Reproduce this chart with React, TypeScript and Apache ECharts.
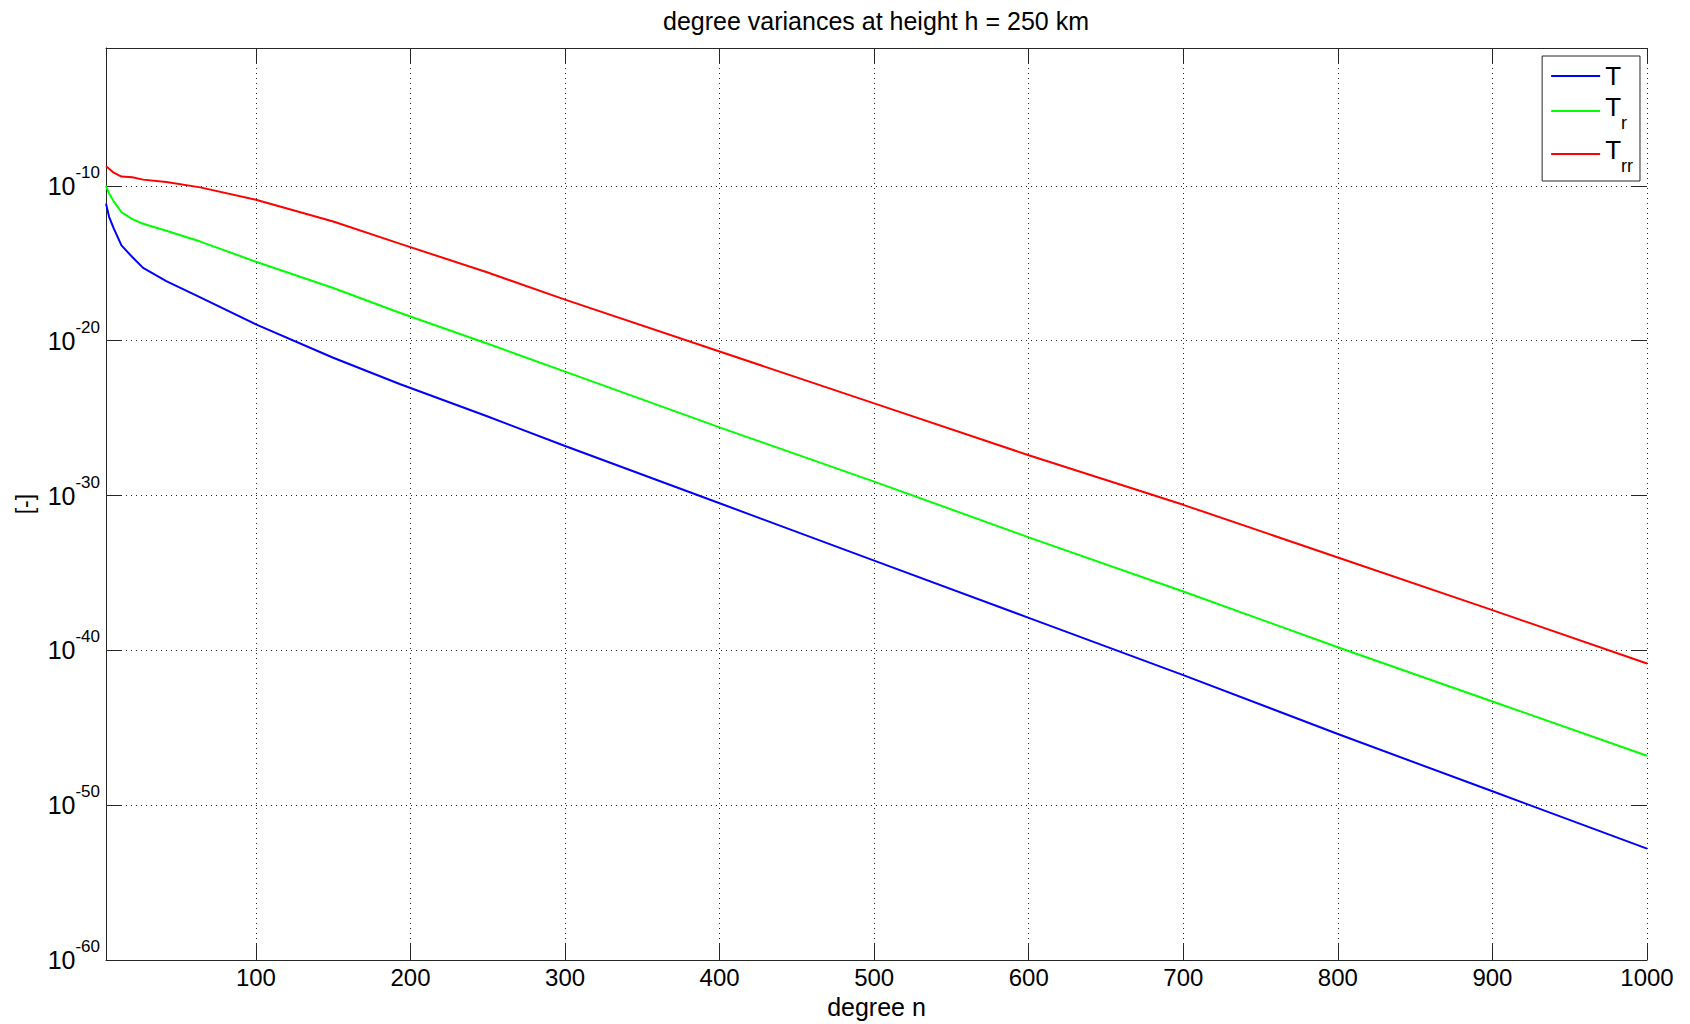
import React, { useEffect, useRef } from "react";
import * as echarts from "echarts";

// spherical-harmonic degree n
const degrees = [3, 5, 8, 13, 20, 27, 42, 64, 100, 150, 193, 250, 300, 400, 500, 600, 700, 800, 900, 1000];
// log10 of the degree variances
const logT = [-11.15, -12.0, -12.75, -13.85, -14.6, -15.3, -16.15, -17.2, -18.95, -21.1, -22.8, -24.9, -26.8, -30.5, -34.2, -37.9, -41.6, -45.4, -49.1, -52.8];
const logTr = [-10.0, -10.5, -11.0, -11.7, -12.15, -12.45, -12.9, -13.6, -14.9, -16.6, -18.2, -20.2, -22.0, -25.6, -29.1, -32.7, -36.2, -39.8, -43.3, -46.8];
const logTrr = [-8.74, -8.9, -9.15, -9.4, -9.45, -9.6, -9.75, -10.1, -10.9, -12.3, -13.73, -15.6, -17.35, -20.7, -24.05, -27.4, -30.6, -34.0, -37.4, -40.85];

const seriesNames = ["T", "T_r", "T_rr"];
const seriesColors = ["#0000ff", "#00ff00", "#ff0000"];
const seriesLogs = [logT, logTr, logTrr];

const titleText = "degree variances at height h = 250 km";
const xName = "degree n";
const yName = "[-]";
const xMin = 3;
const xMax = 1000;
const yMinExp = -60;
const yMaxExp = -1.1;

const FONT = '"Liberation Sans", Arial, Helvetica, sans-serif';
const AXIS_COLOR = "#262626";

export default function App() {
  const ref = useRef<HTMLDivElement>(null);

  useEffect(() => {
    if (!ref.current) return;
    const chart = echarts.init(ref.current, undefined, { renderer: "svg" });

    const series = seriesNames.map((name, i) => ({
      name,
      type: "line",
      xAxisIndex: 0,
      yAxisIndex: 0,
      data: degrees.map((n, j) => [n, seriesLogs[i][j]]),
      symbol: "none",
      showSymbol: false,
      lineStyle: { color: seriesColors[i], width: 2 },
      itemStyle: { color: seriesColors[i] },
      clip: true,
    }));

    const tickStyle = { show: true, inside: true, length: 16, lineStyle: { color: AXIS_COLOR, width: 1 } };

    const option: any = {
      animation: false,
      backgroundColor: "#ffffff",
      textStyle: { fontFamily: FONT },
      grid: { left: 106, right: 43, top: 48, bottom: 63, containLabel: false },
      graphic: [
        {
          type: "text",
          x: 876,
          y: 21,
          style: {
            text: titleText,
            fill: "#000",
            fontSize: 25,
            fontFamily: FONT,
            align: "center",
            verticalAlign: "middle",
          },
        },
      ],
      legend: {
        orient: "vertical",
        right: 50,
        top: 56,
        icon: "rect",
        itemWidth: 49,
        itemHeight: 2,
        itemGap: 5,
        padding: [7, 7, 6, 9],
        borderColor: AXIS_COLOR,
        borderWidth: 1,
        backgroundColor: "#ffffff",
        data: seriesNames,
        formatter: (name: string) =>
          name === "T" ? "{t0|T}" : `{t|T}{s|${name.slice(2)}}`,
        textStyle: {
          color: "#000",
          fontFamily: FONT,
          rich: {
            t0: { fontSize: 26, lineHeight: 30, fontFamily: FONT, color: "#000" },
            t: { fontSize: 26, verticalAlign: "top", padding: [4, 0, 0, 0], fontFamily: FONT, color: "#000" },
            s: { fontSize: 18, verticalAlign: "top", padding: [24, 0, 0, 0], fontFamily: FONT, color: "#000" },
          },
        },
      },
      xAxis: [
        {
          type: "value",
          position: "bottom",
          min: xMin,
          max: xMax,
          splitNumber: 10,
          name: xName,
          nameLocation: "middle",
          nameGap: 33,
          nameTextStyle: { fontSize: 25, color: "#000", fontFamily: FONT },
          axisLine: { show: true, lineStyle: { color: AXIS_COLOR, width: 1 } },
          axisTick: tickStyle,
          axisLabel: {
            show: true,
            interval: 0,
            margin: 5,
            fontSize: 24,
            color: "#000",
            fontFamily: FONT,
            formatter: (v: number) => (Math.abs(v % 100) < 1e-9 ? String(v) : ""),
          },
          splitLine: {
            show: true,
            lineStyle: { color: AXIS_COLOR, width: 1, type: [1, 4] },
          },
        },
        {
          type: "value",
          position: "top",
          min: xMin,
          max: xMax,
          splitNumber: 10,
          axisLine: { show: true, lineStyle: { color: AXIS_COLOR, width: 1 } },
          axisTick: tickStyle,
          axisLabel: { show: false },
          splitLine: { show: false },
        },
      ],
      yAxis: [
        {
          type: "value",
          position: "left",
          min: yMinExp,
          max: yMaxExp,
          interval: 10,
          name: yName,
          nameLocation: "middle",
          nameGap: 66,
          nameRotate: 90,
          nameTextStyle: { fontSize: 23, color: "#000", fontFamily: FONT },
          axisLine: { show: true, lineStyle: { color: AXIS_COLOR, width: 1 } },
          axisTick: tickStyle,
          axisLabel: {
            show: true,
            margin: 6,
            color: "#000",
            fontFamily: FONT,
            formatter: (v: number) => {
              const r = Math.round(v);
              if (Math.abs(v - r) > 1e-6 || r % 10 !== 0) return "";
              return `{b|10}{s|${r}}`;
            },
            rich: {
              b: { fontSize: 25, lineHeight: 44, fontFamily: FONT, color: "#000" },
              s: { fontSize: 17, verticalAlign: "top", fontFamily: FONT, color: "#000" },
            },
          },
          splitLine: {
            show: true,
            lineStyle: { color: AXIS_COLOR, width: 1, type: [1, 4] },
          },
        },
        {
          type: "value",
          position: "right",
          min: yMinExp,
          max: yMaxExp,
          interval: 10,
          axisLine: { show: false },
          axisTick: tickStyle,
          axisLabel: { show: false },
          splitLine: { show: false },
        },
      ],
      series,
    };

    chart.setOption(option);
    return () => chart.dispose();
  }, []);

  return (
    <div
      ref={ref}
      style={{ position: "fixed", left: 0, top: 0, width: 1690, height: 1024, background: "#fff" }}
    />
  );
}
